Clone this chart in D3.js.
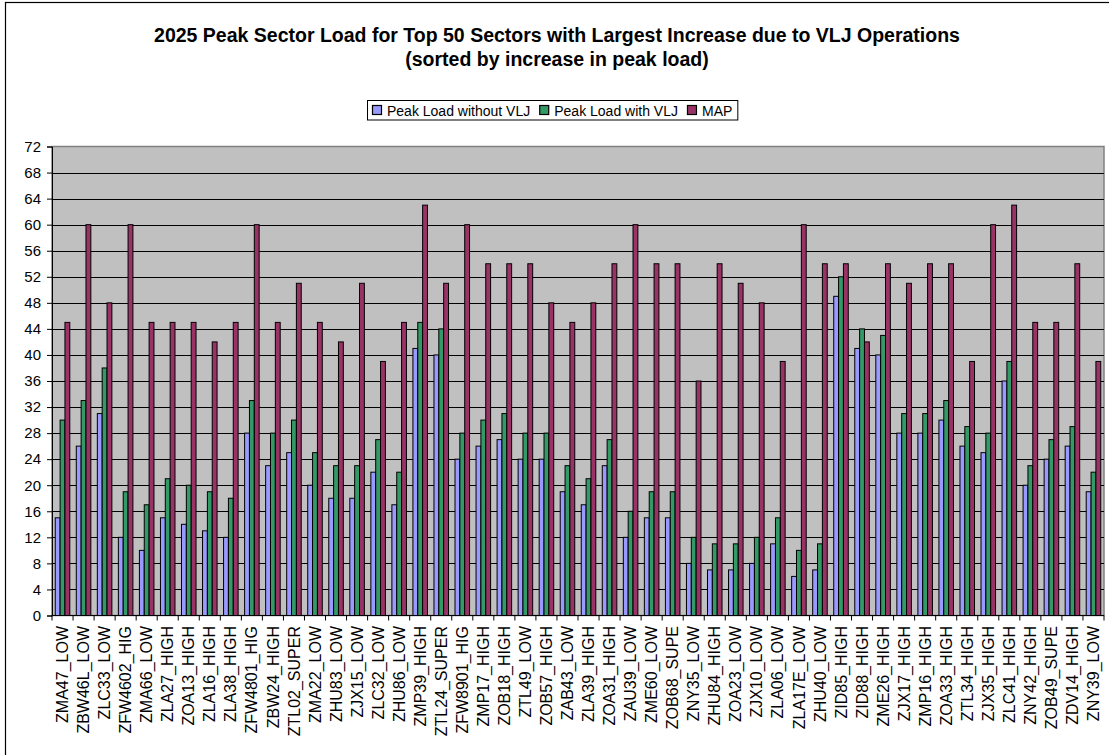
<!DOCTYPE html>
<html>
<head>
<meta charset="utf-8">
<script src="https://cdn.jsdelivr.net/npm/d3@7"></script>
<style>
  html, body { margin: 0; padding: 0; background: #fff; }
  svg { display: block; font-family: Arial, "Liberation Sans", sans-serif; }
</style>
</head>
<body>
<svg id="chart" width="1109" height="755"></svg>
<script>
const titleLines = [
  "2025 Peak Sector Load for Top 50 Sectors with Largest Increase due to VLJ Operations",
  "(sorted by increase in peak load)"
];
const categories = [
  "ZMA47_LOW","ZBW46L_LOW","ZLC33_LOW","ZFW4602_HIG","ZMA66_LOW","ZLA27_HIGH","ZOA13_HIGH","ZLA16_HIGH","ZLA38_HIGH","ZFW4801_HIG",
  "ZBW24_HIGH","ZTL02_SUPER","ZMA22_LOW","ZHU83_LOW","ZJX15_LOW","ZLC32_LOW","ZHU86_LOW","ZMP39_HIGH","ZTL24_SUPER","ZFW8901_HIG",
  "ZMP17_HIGH","ZOB18_HIGH","ZTL49_LOW","ZOB57_HIGH","ZAB43_LOW","ZLA39_HIGH","ZOA31_HIGH","ZAU39_LOW","ZME60_LOW","ZOB68_SUPE",
  "ZNY35_LOW","ZHU84_HIGH","ZOA23_LOW","ZJX10_LOW","ZLA06_LOW","ZLA17E_LOW","ZHU40_LOW","ZID85_HIGH","ZID88_HIGH","ZME26_HIGH",
  "ZJX17_HIGH","ZMP16_HIGH","ZOA33_HIGH","ZTL34_HIGH","ZJX35_HIGH","ZLC41_HIGH","ZNY42_HIGH","ZOB49_SUPE","ZDV14_HIGH","ZNY39_LOW"
];
const seriesNames = ["Peak Load without VLJ", "Peak Load with VLJ", "MAP"];
const peakWithout = [15,26,31,12,10,15,14,13,12,28, 23,25,20,18,18,22,17,41,40,24, 26,27,24,24,19,17,23,12,15,15, 8,7,7,8,11,6,7,49,41,40, 28,28,30,26,25,36,20,24,26,19];
const peakWith    = [30,33,38,19,17,21,20,19,18,33, 28,30,25,23,23,27,22,45,44,28, 30,31,28,28,23,21,27,16,19,19, 12,11,11,12,15,10,11,52,44,43, 31,31,33,29,28,39,23,27,29,22];
const mapValues   = [45,60,48,60,45,45,45,42,45,60, 45,51,45,42,51,39,45,63,51,60, 54,54,54,48,45,48,54,60,54,54, 36,54,51,48,39,60,54,54,42,54, 51,54,54,39,60,63,45,45,54,39];
const yTicks = [0,4,8,12,16,20,24,28,32,36,40,44,48,52,56,60,64,68,72];
const colors = ["#9999FF", "#339966", "#993366"];

const seriesValues = [peakWithout, peakWith, mapValues];
const data = categories.map((c, i) => ({cat: c, vals: seriesValues.map(s => s[i])}));

const svg = d3.select("#chart");
const W = 1109, H = 755;
const plot = {left: 52, right: 1104, top: 146.5, bottom: 615.5};

svg.append("rect").attr("x", 0).attr("y", 0).attr("width", W).attr("height", H).attr("fill", "#fff");
// outer chart border (right/bottom cropped)
svg.append("rect").attr("x", 5.5).attr("y", 2.5).attr("width", 1200).attr("height", 900)
  .attr("fill", "none").attr("stroke", "#000").attr("stroke-width", 1.2);

// title
const title = svg.append("text").attr("text-anchor", "middle").attr("font-weight", "bold")
  .attr("font-size", 19.5).attr("fill", "#000");
title.append("tspan").attr("x", 557).attr("y", 41.5).text(titleLines[0]);
title.append("tspan").attr("x", 557).attr("y", 66).text(titleLines[1]);

const x = d3.scaleBand().domain(categories).range([plot.left, plot.right]).paddingInner(0).paddingOuter(0);
const xi = d3.scaleBand().domain(d3.range(3)).range([0, x.bandwidth()]).paddingInner(0).paddingOuter(0.67);
const y = d3.scaleLinear().domain([0, 72]).range([plot.bottom, plot.top]);

// plot background
svg.append("rect").attr("x", plot.left).attr("y", plot.top)
  .attr("width", plot.right - plot.left).attr("height", plot.bottom - plot.top)
  .attr("fill", "#C0C0C0").attr("stroke", "#808080").attr("stroke-width", 1.5);

// gridlines
svg.append("g").selectAll("line").data(yTicks.filter(t => t > 0 && t < 72)).join("line")
  .attr("x1", plot.left).attr("x2", plot.right)
  .attr("y1", d => Math.round(y(d)) + 0.5).attr("y2", d => Math.round(y(d)) + 0.5)
  .attr("stroke", "#000").attr("stroke-width", 1);

// bars
const groups = svg.append("g").selectAll("g").data(data).join("g")
  .attr("transform", d => `translate(${x(d.cat)},0)`);
groups.selectAll("rect").data(d => d.vals.map((v, k) => ({v, k}))).join("rect")
  .attr("x", d => xi(d.k)).attr("width", xi.bandwidth())
  .attr("y", d => y(d.v)).attr("height", d => y(0) - y(d.v))
  .attr("fill", d => colors[d.k]).attr("stroke", "#000").attr("stroke-width", 1);

// y axis
const yAxis = d3.axisLeft(y).tickValues(yTicks).tickSize(5).tickPadding(6);
const gy = svg.append("g").attr("transform", `translate(${plot.left},0)`).call(yAxis);
gy.select(".domain").attr("stroke", "#000");
gy.selectAll(".tick line").attr("stroke", "#000");
gy.selectAll(".tick text").attr("font-size", 15).attr("font-family", "Arial, 'Liberation Sans', sans-serif").attr("fill", "#000");

// x axis line
svg.append("line").attr("x1", plot.left).attr("x2", plot.right)
  .attr("y1", plot.bottom).attr("y2", plot.bottom).attr("stroke", "#000").attr("stroke-width", 1.2);
// x ticks at category boundaries
svg.append("g").selectAll("line").data(categories.concat(["__end"])).join("line")
  .attr("x1", (d, i) => plot.left + i * x.step()).attr("x2", (d, i) => plot.left + i * x.step())
  .attr("y1", plot.bottom).attr("y2", plot.bottom + 5).attr("stroke", "#000");
// x labels
svg.append("g").selectAll("text").data(categories).join("text")
  .attr("transform", d => `translate(${x(d) + x.bandwidth() / 2},626) rotate(-90)`)
  .attr("text-anchor", "end").attr("dy", "0.35em")
  .attr("font-size", 16).attr("fill", "#000").text(d => d);

// legend
const leg = svg.append("g");
const legBox = leg.append("rect").attr("y", 100.5).attr("height", 19.5)
  .attr("fill", "#fff").attr("stroke", "#000").attr("stroke-width", 1);
let lx = 367 + 5;
seriesNames.forEach((name, k) => {
  leg.append("rect").attr("x", lx + 0.5).attr("y", 105.5).attr("width", 9).attr("height", 9)
    .attr("fill", colors[k]).attr("stroke", "#000").attr("stroke-width", 1.2);
  const t = leg.append("text").attr("x", lx + 15).attr("y", 115.5)
    .attr("font-size", 14).attr("fill", "#000").text(name);
  lx += 15 + t.node().getComputedTextLength() + 9;
});
legBox.attr("x", 367.5).attr("width", lx - 367 - 4);
</script>
</body>
</html>
